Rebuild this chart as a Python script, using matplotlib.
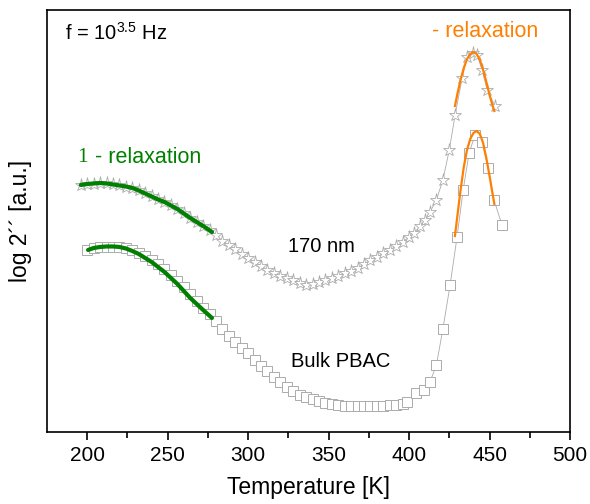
import matplotlib
matplotlib.use('Agg')
import matplotlib.pyplot as plt

plt.rcParams.update({'font.family': ['Liberation Sans', 'DejaVu Sans'], 'mathtext.fontset': 'custom',
                     'mathtext.rm': 'Liberation Sans', 'axes.linewidth': 1.2})

# 170 nm film (stars), temperature [K] and log eps'' [a.u.]
film_T = [196, 200, 204, 208, 212, 216, 220, 224, 228, 232, 236, 240, 244, 248, 252, 256, 260, 264, 268, 272,
          276, 280, 284, 288, 292, 296, 300, 304, 308, 312, 316, 320, 324, 328, 332, 336, 340, 344, 348, 352,
          356, 360, 364, 368, 372, 376, 380, 384, 388, 392, 396, 400, 403, 407, 410, 413, 417, 421, 425, 428.6,
          433, 436, 440, 442.3, 445.4, 448.5, 453.4]
film_y = [2.47, 2.48, 2.48, 2.49, 2.49, 2.48, 2.47, 2.45, 2.44, 2.42, 2.39, 2.36, 2.33, 2.30, 2.27, 2.23, 2.19,
          2.14, 2.10, 2.06, 2.02, 1.97, 1.91, 1.87, 1.83, 1.78, 1.74, 1.70, 1.66, 1.62, 1.59, 1.56, 1.54, 1.52,
          1.49, 1.47, 1.48, 1.50, 1.52, 1.54, 1.56, 1.59, 1.61, 1.64, 1.68, 1.72, 1.75, 1.79, 1.82, 1.86, 1.90,
          1.95, 1.99, 2.06, 2.12, 2.20, 2.32, 2.52, 2.82, 3.17, 3.54, 3.75, 3.79, 3.77, 3.62, 3.42, 3.26]

# bulk PBAC (squares)
bulk_T = [200, 204, 208, 212, 216, 220, 224, 228, 232, 236, 240, 244, 248, 252, 256, 260, 264, 268, 272, 276,
          280, 284, 288, 292, 296, 300, 304, 308, 312, 316, 320, 324, 328, 332, 336, 340, 344, 348, 352, 356,
          360, 364, 368, 372, 376, 380, 384, 388, 392, 396, 399, 404, 409, 413, 417, 421, 425.5, 429.8, 433.6,
          437.3, 441, 445.4, 449.1, 452.8, 457.7]
bulk_y = [1.82, 1.84, 1.85, 1.85, 1.85, 1.85, 1.84, 1.82, 1.79, 1.76, 1.72, 1.68, 1.63, 1.57, 1.51, 1.45, 1.38,
          1.31, 1.24, 1.18, 1.11, 1.03, 0.96, 0.90, 0.84, 0.79, 0.72, 0.66, 0.61, 0.55, 0.50, 0.45, 0.41, 0.37,
          0.35, 0.33, 0.31, 0.29, 0.28, 0.27, 0.26, 0.26, 0.26, 0.26, 0.26, 0.26, 0.26, 0.27, 0.27, 0.28, 0.30,
          0.39, 0.42, 0.50, 0.67, 1.03, 1.47, 1.95, 2.42, 2.79, 2.97, 2.90, 2.64, 2.32, 2.07]

# beta relaxation fits (green)
beta_film_T = [196, 200, 204, 208, 212, 216, 220, 224, 228, 232, 236, 240, 244, 248, 252, 256, 260, 264, 268,
               272, 277.5]
beta_film_y = [2.47, 2.48, 2.485, 2.49, 2.485, 2.475, 2.465, 2.455, 2.44, 2.415, 2.385, 2.355, 2.325, 2.30,
               2.265, 2.23, 2.185, 2.14, 2.10, 2.06, 2.00]
beta_bulk_T = [200.5, 204, 208, 212, 216, 220, 224, 228, 232, 236, 240, 244, 248, 252, 256, 260, 264, 268,
               272, 277.5]
beta_bulk_y = [1.82, 1.84, 1.85, 1.855, 1.855, 1.85, 1.835, 1.81, 1.78, 1.74, 1.70, 1.65, 1.60, 1.54, 1.48,
               1.41, 1.34, 1.28, 1.22, 1.14]

# alpha relaxation fits (orange)
alpha_T = [428.5, 430, 432, 434, 436, 438, 440, 442, 444, 446, 448, 450, 452, 453]
alpha_film_y = [3.26, 3.38, 3.52, 3.64, 3.73, 3.78, 3.80, 3.78, 3.72, 3.62, 3.50, 3.37, 3.26, 3.21]
alpha_bulk_y = [1.96, 2.16, 2.42, 2.65, 2.82, 2.93, 2.99, 3.01, 2.98, 2.89, 2.74, 2.56, 2.37, 2.28]

gray = '#ababab'
fig = plt.figure(figsize=(5.9, 5.04), dpi=100)
ax = fig.add_axes([0.0797, 0.1429, 0.8864, 0.8373])

ax.plot(film_T, film_y, color=gray, lw=0.6, marker='*', ms=9.5, mfc='white', mec=gray, mew=0.6, zorder=2)
ax.plot(bulk_T, bulk_y, color=gray, lw=0.6, marker='s', ms=7.5, mfc='white', mec=gray, mew=0.7, zorder=2)
ax.plot(beta_film_T, beta_film_y, color='#008000', lw=3, solid_capstyle='round', zorder=3)
ax.plot(beta_bulk_T, beta_bulk_y, color='#008000', lw=3, solid_capstyle='round', zorder=3)
ax.plot(alpha_T, alpha_film_y, color='#ff8000', lw=1.6, zorder=3)
ax.plot(alpha_T, alpha_bulk_y, color='#ff8000', lw=1.6, zorder=3)

ax.set_xlim(175, 500)
ax.set_ylim(0, 4.22)
ax.set_xticks([200, 250, 300, 350, 400, 450, 500])
ax.set_xticks([225, 275, 325, 375, 425, 475], minor=True)
ax.set_yticks([])
ax.tick_params(axis='x', which='major', direction='out', length=6, width=1.2, labelsize=15, pad=4)
ax.tick_params(axis='x', which='minor', direction='out', length=4, width=1.2)
ax.set_xlabel('Temperature [K]', fontsize=16.5, labelpad=8)
ax.set_ylabel('log 2´´ [a.u.]', fontsize=16.5, labelpad=11)

ax.text(0.034, 0.945, 'f = 10$^{\\mathregular{3.5}}$ Hz', transform=ax.transAxes, fontsize=14.5,
        ha='left', va='center')
ax.text(193.8, 2.74, '1', family=['Liberation Serif', 'DejaVu Serif'], color='#008000', fontsize=15.5,
        ha='left', va='center')
ax.text(201, 2.74, ' - relaxation', color='#008000', fontsize=15.5, ha='left', va='center')
ax.text(414.2, 4.0, '- relaxation', color='#ff8000', fontsize=15.5, ha='left', va='center')
ax.text(324.9, 1.85, '170 nm', fontsize=14.5, ha='left', va='center')
ax.text(326.8, 0.70, 'Bulk PBAC', fontsize=14.5, ha='left', va='center')

fig.savefig('out.png', dpi=100)
